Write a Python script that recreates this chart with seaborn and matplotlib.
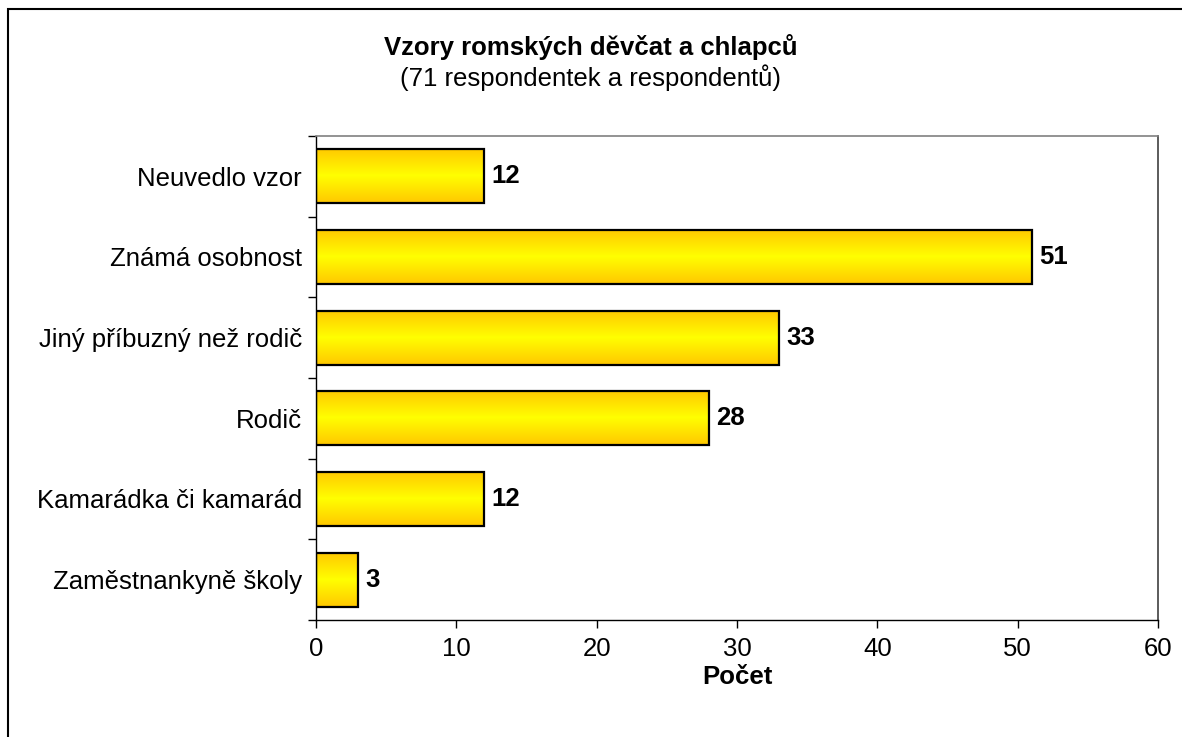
import matplotlib.pyplot as plt
import numpy as np
import seaborn as sns
import pandas as pd
from matplotlib.patches import Rectangle
from matplotlib.colors import LinearSegmentedColormap

categories = ["Neuvedlo vzor", "Známá osobnost", "Jiný příbuzný než rodič",
              "Rodič", "Kamarádka či kamarád", "Zaměstnankyně školy"]
values = [12, 51, 33, 28, 12, 3]
x_ticks = [0, 10, 20, 30, 40, 50, 60]

sns.set_style("white")
plt.rcParams['font.family'] = ['Liberation Sans', 'DejaVu Sans']
plt.rcParams['text.color'] = 'black'
plt.rcParams['xtick.color'] = 'black'
plt.rcParams['ytick.color'] = 'black'
plt.rcParams['axes.labelcolor'] = 'black'

FS = 18.5

fig = plt.figure(figsize=(11.82, 7.37), dpi=100)
ax = fig.add_axes([316 / 1182, 1 - 620 / 737, (1158 - 316) / 1182, (620 - 136) / 737])

df = pd.DataFrame({"kategorie": categories, "pocet": values})
sns.barplot(data=df, x="pocet", y="kategorie", orient="h", width=0.67,
            color="#FFEE00", edgecolor="black", linewidth=1.6, ax=ax)

# svisly prechod zlata -> zluta -> zlata v kazdem sloupci
grad_cmap = LinearSegmentedColormap.from_list("gold", ["#FFC800", "#FFFF00", "#FFC800"])
grad = np.linspace(0, 1, 256).reshape(-1, 1)
for p in ax.patches:
    x0, y0 = p.get_x(), p.get_y()
    w, h = p.get_width(), p.get_height()
    im = ax.imshow(grad, cmap=grad_cmap, aspect="auto", extent=[x0, x0 + w, y0 + h, y0],
                   zorder=p.get_zorder(), interpolation="bilinear")
    im.set_clip_path(p)
    p.set_facecolor("none")
    p.set_zorder(p.get_zorder() + 0.5)

for i, v in enumerate(values):
    ax.text(v + 0.5, i, str(v), va="center", ha="left", fontsize=FS, fontweight="bold")

ax.set_xlim(0, 60)
ax.set_ylim(len(categories) - 0.5, -0.5)
ax.set_xticks(x_ticks)
ax.set_xticklabels([str(t) for t in x_ticks], fontsize=FS)
ax.tick_params(axis="x", direction="out", length=6, width=1, pad=6, bottom=True)

# hlavni ticky na hranicich kategorii, popisky na stredech
ax.set_yticks(np.arange(-0.5, len(categories), 1.0))
ax.set_yticklabels([""] * (len(categories) + 1))
ax.set_yticks(np.arange(len(categories)), minor=True)
ax.set_yticklabels(categories, minor=True, fontsize=FS)
ax.tick_params(axis="y", which="major", direction="out", length=6, width=1, left=True)
ax.tick_params(axis="y", which="minor", length=0, pad=10)

ax.set_ylabel("")
ax.set_xlabel("Počet", fontsize=FS, fontweight="bold", labelpad=3)

for side in ["left", "bottom"]:
    ax.spines[side].set_color("black")
    ax.spines[side].set_linewidth(1.0)
ax.spines["top"].set_color("#808080")
ax.spines["right"].set_color("#404040")
for side in ["top", "right"]:
    ax.spines[side].set_visible(True)
    ax.spines[side].set_linewidth(1.2)

fig.text(0.5, 1 - 47 / 737, "Vzory romských děvčat a chlapců", ha="center", va="center",
         fontsize=FS, fontweight="bold")
fig.text(0.5, 1 - 78 / 737, "(71 respondentek a respondentů)", ha="center", va="center",
         fontsize=FS)

fig.patches.append(Rectangle((8 / 1182, -0.01), 1.02, 1 - 9 / 737 + 0.01, transform=fig.transFigure,
                             fill=False, edgecolor="black", linewidth=1.5))

fig.savefig("out.png", dpi=100)
